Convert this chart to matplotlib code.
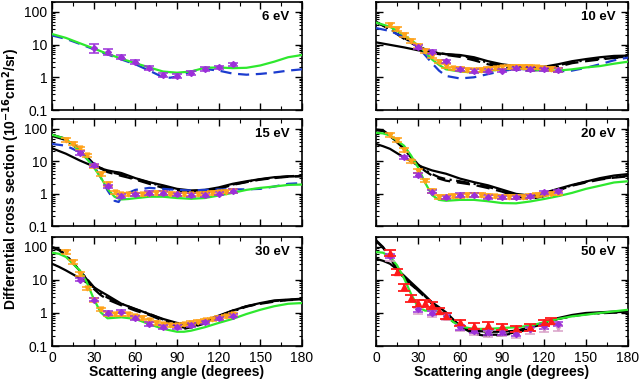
import numpy as np
import matplotlib
matplotlib.use("Agg")
import matplotlib.pyplot as plt
from matplotlib.ticker import LogLocator, MultipleLocator, NullFormatter, FixedFormatter, FixedLocator

plt.rcParams['font.family'] = ['Liberation Sans', 'DejaVu Sans']

# ---------------- data ----------------
# 6 eV
a6_green = [0, 10, 20, 30, 40, 50, 60, 70, 80, 90, 100, 110, 120, 130, 140, 150, 160, 170, 180]
y6_green = [21, 16, 11, 7.6, 5.2, 3.7, 2.7, 2.0, 1.5, 1.38, 1.5, 1.95, 2.0, 1.9, 1.95, 2.3, 3.0, 4.1, 4.8]
a6_blue = [0, 10, 20, 30, 40, 50, 60, 70, 80, 85, 90, 100, 110, 120, 130, 140, 150, 160, 170, 180]
y6_blue = [19, 15, 10.5, 7.2, 5.0, 3.5, 2.5, 1.6, 1.0, 0.97, 1.05, 1.5, 1.8, 1.6, 1.3, 1.2, 1.27, 1.4, 1.6, 1.75]
a6_purple = [30, 40, 50, 60, 70, 80, 90, 100, 110, 120, 130]
y6_purple = [7.8, 6.0, 4.3, 2.9, 1.9, 1.2, 1.13, 1.35, 1.8, 2.0, 2.5]
e6_purple = [0.3, 0.2, 0.15, 0.15, 0.15, 0.15, 0.15, 0.15, 0.12, 0.12, 0.12]

# 10 eV
a10 = [0, 10, 20, 30, 35, 40, 45, 50, 60, 70, 80, 90, 100, 110, 120, 130, 140, 150, 160, 170, 180]
y10_green = [47, 35, 19.5, 9.6, 6.0, 3.5, 2.4, 1.75, 1.5, 1.4, 1.55, 1.75, 1.85, 1.75, 1.65, 1.6, 1.75, 2.0, 2.2, 2.6, 3.0]
y10_blue = [32, 26, 17, 8.5, 4.8, 2.7, 1.6, 1.1, 0.92, 1.0, 1.25, 1.55, 1.8, 1.75, 1.6, 1.5, 1.6, 1.95, 2.5, 3.3, 4.0]
y10_solid = [11.7, 9.8, 8.2, 6.7, 6.2, 5.8, 5.4, 5.1, 4.8, 4.1, 3.1, 2.5, 2.2, 2.0, 2.1, 2.5, 3.1, 3.6, 4.1, 4.5, 4.6]
y10_dash = [50, 29, 15, 8.5, 6.8, 5.6, 5.1, 4.8, 4.2, 3.3, 2.5, 2.0, 1.7, 1.6, 1.7, 2.1, 2.7, 3.1, 3.5, 3.9, 4.2]
y10_dashdot = [48, 30, 16, 9.0, 7.2, 6.0, 5.5, 5.1, 4.6, 3.7, 2.8, 2.2, 1.9, 1.8, 1.9, 2.3, 2.9, 3.3, 3.7, 4.0, 4.3]
a10_orange = [10, 15, 20, 25, 30, 35, 40, 45, 50, 55, 60, 65, 70, 75, 80, 85, 90, 95, 100, 105, 110, 115, 120, 125, 130]
y10_orange = [40, 30, 20, 13, 9, 6.5, 4.5, 3.0, 2.2, 1.9, 1.8, 1.7, 1.65, 1.7, 1.8, 1.9, 2.0, 2.1, 2.1, 2.1, 2.1, 2.0, 1.9, 1.8, 1.7]
a10_purple = [30, 40, 50, 60, 70, 80, 90, 100, 110, 120, 130]
y10_purple = [8.5, 6.0, 3.1, 1.75, 1.55, 1.6, 1.6, 1.9, 1.8, 1.75, 1.7]

# 15 eV
a15 = [0, 10, 20, 25, 30, 35, 40, 45, 48, 50, 55, 60, 70, 80, 90, 100, 110, 120, 130, 140, 150, 160, 170, 180]
y15_green = [65, 49, 21, 12, 6.5, 3.2, 1.4, 0.8, 0.7, 0.66, 0.68, 0.72, 0.8, 0.8, 0.73, 0.69, 0.73, 0.87, 1.05, 1.3, 1.5, 1.65, 1.85, 1.9]
y15_blue = [34, 30, 19, 12, 7.4, 3.2, 1.25, 0.6, 0.55, 0.77, 1.05, 1.3, 1.5, 1.4, 1.3, 1.25, 1.3, 1.35, 1.35, 1.35, 1.4, 1.65, 2.0, 2.1]
y15_solid = [25, 17, 10.5, 8.5, 6.9, 6.0, 5.2, 4.7, 4.5, 4.3, 3.6, 3.0, 2.25, 1.8, 1.4, 1.25, 1.3, 1.55, 2.0, 2.4, 2.8, 3.2, 3.4, 3.4]
y15_dash = [65, 49, 24, 14, 8.3, 6.0, 4.6, 4.0, 3.7, 3.5, 3.1, 2.7, 2.0, 1.5, 1.2, 1.03, 1.1, 1.4, 1.85, 2.25, 2.7, 3.0, 3.3, 3.5]
y15_dashdot = [60, 45, 22, 13, 8.0, 6.2, 5.0, 4.3, 4.0, 3.8, 3.3, 2.9, 2.2, 1.65, 1.3, 1.1, 1.15, 1.45, 1.9, 2.3, 2.75, 3.1, 3.4, 3.6]
a15_orange = [10, 15, 20, 25, 30, 35, 40, 45, 50, 55, 60, 65, 70, 75, 80, 85, 90, 95, 100, 105, 110, 115, 120, 125, 130]
y15_orange = [45, 35, 25, 15, 7, 4, 2, 1.1, 0.95, 0.95, 0.95, 0.95, 1.0, 1.05, 1.05, 1.0, 0.95, 0.95, 0.95, 0.95, 1.0, 1.05, 1.1, 1.15, 1.2]
a15_purple = [20, 30, 40, 50, 60, 70, 80, 90, 100, 110, 120, 130]
y15_purple = [18, 7.5, 1.7, 0.85, 0.95, 1.05, 1.05, 0.95, 0.9, 0.9, 1.0, 1.2]

# 20 eV
a20 = [0, 5, 10, 20, 25, 30, 35, 40, 45, 50, 60, 70, 80, 90, 100, 110, 120, 130, 140, 150, 160, 170, 180]
y20_green = [75, 72, 62, 30, 15, 6.5, 2.2, 0.9, 0.64, 0.6, 0.64, 0.64, 0.58, 0.51, 0.5, 0.57, 0.68, 0.83, 1.05, 1.4, 1.75, 2.2, 2.4]
y20_solid = [34, 29, 24, 13, 10, 7.4, 6.2, 5.2, 4.6, 4.1, 2.9, 2.25, 1.8, 1.33, 0.98, 0.87, 1.05, 1.4, 1.85, 2.35, 3.0, 3.6, 4.0]
y20_dash = [95, 90, 62, 24, 13, 7.4, 5.0, 3.6, 2.9, 2.5, 2.15, 1.85, 1.48, 1.15, 0.8, 0.68, 0.83, 1.25, 1.75, 2.2, 2.7, 3.1, 3.4]
y20_dashdot = [90, 85, 60, 25, 14, 8.0, 5.4, 4.0, 3.2, 2.8, 2.4, 2.0, 1.6, 1.25, 0.9, 0.75, 0.9, 1.3, 1.8, 2.3, 2.8, 3.2, 3.5]
a20_orange = [10, 15, 20, 25, 30, 35, 40, 45, 50, 55, 60, 65, 70, 75, 80, 85, 90, 95, 100, 105, 110, 115, 120, 125, 130]
y20_orange = [65, 45, 22, 10, 5, 2.5, 1.2, 0.8, 0.8, 0.85, 0.85, 0.9, 0.9, 0.9, 0.85, 0.82, 0.8, 0.78, 0.78, 0.8, 0.85, 0.9, 0.95, 1.0, 1.05]
a20_purple = [20, 30, 40, 50, 60, 70, 80, 90, 100, 110, 120, 130]
y20_purple = [13, 3.8, 1.15, 0.77, 0.91, 0.91, 0.8, 0.77, 0.77, 0.83, 1.1, 1.18]

# 30 eV
a30 = [0, 5, 10, 20, 25, 30, 35, 40, 50, 60, 70, 80, 90, 95, 100, 110, 120, 130, 140, 150, 160, 170, 180]
y30_green = [67, 62, 50, 19.5, 8.6, 2.7, 1.05, 0.69, 0.74, 0.66, 0.46, 0.33, 0.27, 0.27, 0.29, 0.37, 0.5, 0.66, 0.93, 1.25, 1.6, 1.9, 2.0]
y30_solid = [31, 25, 19.5, 11.3, 8.3, 6.0, 4.5, 3.4, 1.9, 1.33, 0.93, 0.66, 0.5, 0.47, 0.46, 0.58, 0.83, 1.18, 1.6, 2.0, 2.4, 2.55, 2.7]
y30_dash = [100, 85, 58, 19.5, 10.5, 5.4, 3.5, 2.55, 1.7, 1.18, 0.87, 0.58, 0.39, 0.33, 0.37, 0.52, 0.79, 1.18, 1.6, 1.9, 2.2, 2.45, 2.55]
y30_dashdot = [95, 80, 55, 19, 11, 6.2, 4.0, 2.9, 1.9, 1.3, 0.95, 0.63, 0.42, 0.36, 0.36, 0.48, 0.72, 1.1, 1.55, 1.95, 2.3, 2.5, 2.6]
a30_orange = [10, 15, 20, 25, 30, 35, 40, 45, 50, 55, 60, 65, 70, 75, 80, 85, 90, 95, 100, 105, 110, 115, 120, 125, 130]
y30_orange = [70, 35, 15.5, 5.6, 2.5, 1.3, 0.93, 0.9, 0.95, 0.9, 0.8, 0.7, 0.6, 0.5, 0.45, 0.42, 0.42, 0.45, 0.5, 0.55, 0.6, 0.65, 0.7, 0.8, 0.9]
a30_purple = [20, 30, 40, 50, 60, 70, 80, 90, 100, 110, 120, 130]
y30_purple = [10.3, 2.55, 1.0, 1.1, 0.7, 0.46, 0.38, 0.38, 0.43, 0.52, 0.69, 0.83]

# 50 eV
a50 = [0, 5, 10, 15, 20, 25, 30, 35, 40, 45, 50, 55, 60, 70, 80, 90, 100, 110, 120, 130, 140, 150, 160, 170, 180]
y50_green = [70, 67, 50, 28, 11.3, 3.8, 1.5, 1.18, 1.18, 1.1, 0.83, 0.54, 0.39, 0.33, 0.33, 0.35, 0.37, 0.41, 0.52, 0.66, 0.79, 0.89, 1.0, 1.12, 1.25]
y50_solid = [44, 38, 31, 21, 13.5, 8.5, 5.4, 3.4, 2.1, 1.5, 1.05, 0.65, 0.41, 0.29, 0.27, 0.27, 0.29, 0.37, 0.52, 0.7, 0.87, 1.0, 1.05, 1.1, 1.12]
y50_dash = [160, 100, 50, 22, 12, 7.5, 4.8, 3.0, 1.9, 1.25, 0.83, 0.55, 0.39, 0.23, 0.2, 0.21, 0.25, 0.34, 0.5, 0.66, 0.79, 0.93, 1.0, 1.05, 1.1]
y50_dashdot = [150, 95, 48, 21, 11.5, 7.2, 4.9, 3.2, 2.0, 1.3, 0.86, 0.57, 0.4, 0.25, 0.22, 0.22, 0.26, 0.35, 0.5, 0.67, 0.8, 0.92, 0.98, 1.02, 1.05]
a50_red = [10, 15, 20, 25, 30, 35, 40, 45, 50, 60, 70, 80, 90, 100, 110, 120, 125]
y50_red = [66, 18, 6.0, 2.8, 2.0, 2.0, 1.75, 1.18, 0.83, 0.52, 0.41, 0.43, 0.39, 0.34, 0.37, 0.52, 0.58]
a50_purple = [10, 30, 40, 50, 60, 70, 80, 90, 100, 110, 120, 130]
y50_purple = [53, 1.3, 1.0, 0.79, 0.37, 0.29, 0.26, 0.26, 0.23, 0.33, 0.39, 0.46]
a50_pink = [10, 30, 40, 50, 60, 70, 80, 90, 100, 110, 120, 130]
y50_pink = [48, 1.2, 0.95, 0.75, 0.35, 0.27, 0.24, 0.25, 0.22, 0.29, 0.33, 0.36]

energies = ['6 eV', '10 eV', '15 eV', '20 eV', '30 eV', '50 eV']

# ---------------- styles ----------------
GREEN = '#2ee82e'
BLUE = '#1c3ccf'
PURPLE = '#9b30d9'
ORANGE = '#ffa21a'
RED = '#ff1a1a'
PINK = '#d9a0c8'

fig = plt.figure(figsize=(6.4, 3.81), dpi=100)

left_x, right_x = 52 / 640, 376 / 640
w_left, w_right = 250 / 640, 252 / 640
rows = [(2, 110), (119, 226), (237, 346)]
axes = []
for r, (top, bot) in enumerate(rows):
    for c in range(2):
        x0 = left_x if c == 0 else right_x
        w = w_left if c == 0 else w_right
        ax = fig.add_axes([x0, 1 - bot / 381, w, (bot - top) / 381])
        axes.append(ax)


def pts(ax, a, y, color, marker, frac, ms=3.5, cap=3.5, lw=1.1):
    y = np.array(y)
    ax.errorbar(a, y, yerr=y * np.array(frac), fmt=marker, color=color, ms=ms,
                elinewidth=lw, capsize=cap, capthick=lw, mec=color, zorder=5)


def curves(ax, a, green=None, blue=None, solid=None, dash=None, dashdot=None):
    if solid is not None:
        ax.plot(a, solid, color='black', lw=1.6, zorder=3)
    if dashdot is not None:
        ax.plot(a, dashdot, color='black', lw=1.6, ls=(0, (6, 2, 1, 2)), zorder=3)
    if dash is not None:
        ax.plot(a, dash, color='black', lw=1.6, ls=(0, (6, 3)), zorder=3)
    if blue is not None:
        ax.plot(a, blue, color=BLUE, lw=1.6, ls=(0, (5, 3)), zorder=4)
    if green is not None:
        ax.plot(a, green, color=GREEN, lw=1.6, zorder=4)


# 6 eV
ax = axes[0]
ax.plot(a6_blue, y6_blue, color=BLUE, lw=1.6, ls=(0, (5, 3)), zorder=4)
ax.plot(a6_green, y6_green, color=GREEN, lw=1.6, zorder=4)
pts(ax, a6_purple, y6_purple, PURPLE, 'D', e6_purple, ms=3)

# 10 eV
ax = axes[1]
curves(ax, a10, y10_green, y10_blue, y10_solid, y10_dash, y10_dashdot)
pts(ax, a10_orange, y10_orange, ORANGE, 'v', 0.12, ms=3.5)
pts(ax, a10_purple, y10_purple, PURPLE, 'D', 0.12, ms=3)

# 15 eV
ax = axes[2]
curves(ax, a15, y15_green, y15_blue, y15_solid, y15_dash, y15_dashdot)
pts(ax, a15_orange, y15_orange, ORANGE, 'v', 0.12, ms=3.5)
pts(ax, a15_purple, y15_purple, PURPLE, 'D', 0.12, ms=3)

# 20 eV
ax = axes[3]
curves(ax, a20, y20_green, None, y20_solid, y20_dash, y20_dashdot)
pts(ax, a20_orange, y20_orange, ORANGE, 'v', 0.12, ms=3.5)
pts(ax, a20_purple, y20_purple, PURPLE, 'D', 0.12, ms=3)

# 30 eV
ax = axes[4]
curves(ax, a30, y30_green, None, y30_solid, y30_dash, y30_dashdot)
pts(ax, a30_orange, y30_orange, ORANGE, 'v', 0.12, ms=3.5)
pts(ax, a30_purple, y30_purple, PURPLE, 'D', 0.12, ms=3)

# 50 eV
ax = axes[5]
curves(ax, a50, y50_green, None, y50_solid, y50_dash, y50_dashdot)
pts(ax, a50_pink, y50_pink, PINK, 'v', 0.2, ms=3.5)
pts(ax, a50_purple, y50_purple, PURPLE, 'D', 0.15, ms=3)
pts(ax, a50_red, y50_red, RED, '^', 0.22, ms=4.5, cap=4, lw=1.3)

# ---------------- axes cosmetics ----------------
for i, ax in enumerate(axes):
    ax.set_yscale('log')
    ax.set_ylim(0.1, 200)
    ax.set_xlim(0, 180)
    ax.xaxis.set_major_locator(MultipleLocator(30))
    ax.xaxis.set_minor_locator(MultipleLocator(15))
    ax.yaxis.set_major_locator(FixedLocator([0.1, 1, 10, 100]))
    ax.yaxis.set_minor_locator(LogLocator(base=10, subs=np.arange(2, 10)))
    ax.yaxis.set_minor_formatter(NullFormatter())
    ax.tick_params(which='both', direction='in', top=True, right=True, labelsize=10)
    ax.tick_params(which='major', length=5, width=1)
    ax.tick_params(which='minor', length=2.5, width=0.8)
    ax.tick_params(axis='x', which='minor', length=3)
    for s in ax.spines.values():
        s.set_linewidth(1.2)
    if i % 2 == 0:
        ax.yaxis.set_major_formatter(FixedFormatter(['0.1', '1', '10', '100']))
    else:
        ax.set_yticklabels([])
    if i < 4:
        ax.set_xticklabels([])
    else:
        ax.set_xlabel('Scattering angle (degrees)', fontsize=10, fontweight='bold', labelpad=0)
    ax.text(0.95, 0.86, energies[i], transform=ax.transAxes, ha='right', va='center',
            fontsize=9.5, fontweight='bold')

fig.text(0.018, 0.53, r'Differential cross section (10$^{\mathbf{-16}}$cm$^{\mathbf{2}}$/sr)',
         rotation=90, ha='center', va='center', fontsize=10, fontweight='bold')

fig.savefig('out.png', dpi=100)
